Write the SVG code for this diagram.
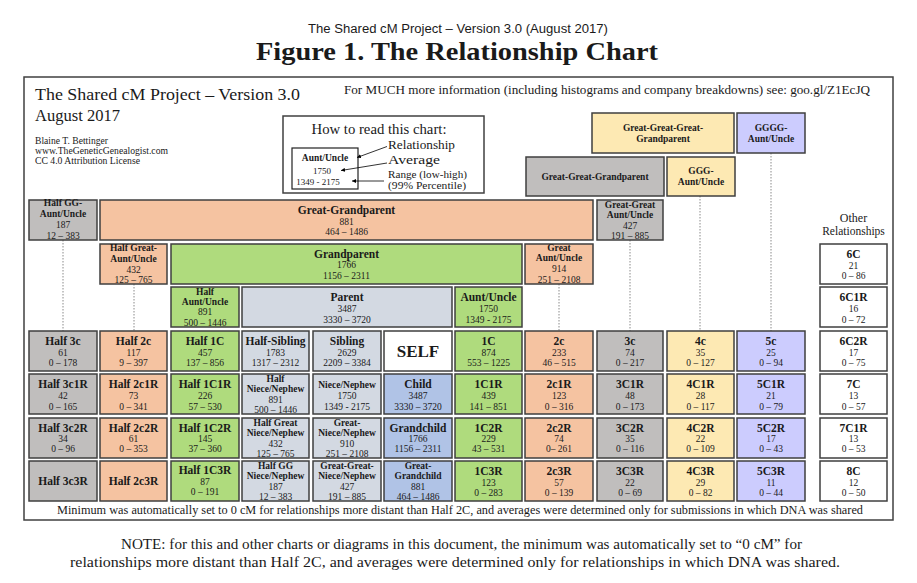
<svg xmlns="http://www.w3.org/2000/svg" width="917" height="583" viewBox="0 0 917 583">
<defs>
<style>
text{font-family:"Liberation Serif","DejaVu Serif",serif;fill:#1a1a1a}
.bx{stroke:#3f3f3f;stroke-width:1.5}
.g{fill:#c0bebd}.s{fill:#f5c3a1}.gr{fill:#afdb7d}.lb{fill:#d3d9e2}.b{fill:#b0c3e6}.y{fill:#fde9b3}.l{fill:#ccccfe}.w{fill:#fff}
.n{font-weight:bold;font-size:11.5px;text-anchor:middle}
.ns{font-weight:bold;font-size:9.5px;text-anchor:middle}
.v{font-size:9.5px;text-anchor:middle}
.lg{font-size:13px}
.c line{stroke:#8a8a8a;stroke-width:1;stroke-dasharray:1.5 1.5}
.ar line{stroke:#000;stroke-width:0.8}
</style>
<marker id="ah" viewBox="0 0 6 6" refX="6" refY="3" markerWidth="5" markerHeight="5" orient="auto"><path d="M0,0L6,3L0,6z" fill="#000"/></marker>
</defs>
<rect width="917" height="583" fill="#fff"/>

<text x="458" y="33" text-anchor="middle" style="font-family:'Liberation Sans',Arial,sans-serif;font-size:12.5px" textLength="300" lengthAdjust="spacingAndGlyphs">The Shared cM Project – Version 3.0 (August 2017)</text>
<text x="256" y="60" style="font-weight:bold;font-size:26px" textLength="402" lengthAdjust="spacingAndGlyphs">Figure 1. The Relationship Chart</text>

<rect x="24" y="77" width="869" height="443" fill="none" stroke="#404040" stroke-width="1.5"/>

<g id="header">
<text x="35" y="100" style="font-size:17px" textLength="265" lengthAdjust="spacingAndGlyphs">The Shared cM Project – Version 3.0</text>
<text x="35" y="121" style="font-size:17px" textLength="85" lengthAdjust="spacingAndGlyphs">August 2017</text>
<text x="35" y="144" style="font-size:9.5px" textLength="73" lengthAdjust="spacingAndGlyphs">Blaine T. Bettinger</text>
<text x="35" y="154" style="font-size:9.5px" textLength="133" lengthAdjust="spacingAndGlyphs">www.TheGeneticGenealogist.com</text>
<text x="35" y="164" style="font-size:9.5px" textLength="105" lengthAdjust="spacingAndGlyphs">CC 4.0 Attribution License</text>
<text x="344" y="94" style="font-size:12px" textLength="526" lengthAdjust="spacingAndGlyphs">For MUCH more information (including histograms and company breakdowns) see: goo.gl/Z1EcJQ</text>
</g>

<g id="legend">
<rect x="283" y="116" width="201" height="77" fill="#fff" stroke="#404040" stroke-width="1.5"/>
<text x="379" y="134" text-anchor="middle" style="font-size:15px" textLength="135" lengthAdjust="spacingAndGlyphs">How to read this chart:</text>
<rect x="292" y="148" width="66" height="41" fill="#fff" stroke="#222" stroke-width="1.2"/>
<text x="325" y="161" class="ns">Aunt/Uncle</text>
<text x="322" y="174" style="font-size:9px" text-anchor="middle">1750</text>
<text x="318" y="184.5" style="font-size:9px" text-anchor="middle">1349 - 2175</text>
<text x="388" y="148.5" class="lg" textLength="67" lengthAdjust="spacingAndGlyphs">Relationship</text>
<text x="388" y="164" class="lg" textLength="52" lengthAdjust="spacingAndGlyphs">Average</text>
<text x="388" y="177.5" style="font-size:11px" textLength="79" lengthAdjust="spacingAndGlyphs">Range (low-high)</text>
<text x="388" y="189" style="font-size:11px" textLength="78" lengthAdjust="spacingAndGlyphs">(99% Percentile)</text>
<g class="ar">
<line x1="387" y1="146.5" x2="357" y2="157.5" marker-end="url(#ah)"/>
<line x1="387" y1="163" x2="341" y2="170.5" marker-end="url(#ah)"/>
<line x1="384" y1="181" x2="352" y2="181" marker-end="url(#ah)"/>
</g>
</g>

<g id="connectors" class="c">
<line x1="63" y1="240" x2="63" y2="331"/>
<line x1="134" y1="284" x2="134" y2="331"/>
<line x1="559" y1="284" x2="559" y2="331"/>
<line x1="630" y1="240" x2="630" y2="331"/>
<line x1="700" y1="196" x2="700" y2="331"/>
<line x1="771" y1="153" x2="771" y2="331"/>
</g>

<text x="853.5" y="222" text-anchor="middle" style="font-size:12px">Other</text>
<text x="853.5" y="235" text-anchor="middle" style="font-size:11.5px">Relationships</text>

<!-- top rows -->
<g id="ggg-grandparent"><rect class="bx y" x="592" y="113" width="142" height="40"/>
<text class="ns" x="663" y="131">Great-Great-Great-</text><text class="ns" x="663" y="142">Grandparent</text></g>
<g id="gggg-aunt"><rect class="bx l" x="737" y="113" width="68" height="40"/>
<text class="ns" x="771" y="131">GGGG-</text><text class="ns" x="771" y="142">Aunt/Uncle</text></g>
<g id="gg-grandparent"><rect class="bx g" x="526" y="157" width="138" height="39"/>
<text class="ns" x="595" y="180">Great-Great-Grandparent</text></g>
<g id="ggg-aunt"><rect class="bx y" x="667" y="157" width="68" height="39"/>
<text class="ns" x="701" y="174">GGG-</text><text class="ns" x="701" y="185">Aunt/Uncle</text></g>

<g id="half-gg-aunt"><rect class="bx g" x="29" y="200" width="68" height="40"/>
<text class="ns" x="63" y="205.5">Half GG-</text><text class="ns" x="63" y="217">Aunt/Uncle</text><text class="v" x="63" y="228">187</text><text class="v" x="63" y="238.5">12 – 383</text></g>
<g id="great-grandparent"><rect class="bx s" x="100" y="200" width="493" height="40"/>
<text class="n" x="346.5" y="214">Great-Grandparent</text><text class="v" x="346.5" y="225">881</text><text class="v" x="346.5" y="235">464 – 1486</text></g>
<g id="gg-aunt"><rect class="bx g" x="597" y="200" width="66" height="40"/>
<text class="ns" x="630" y="208">Great-Great</text><text class="ns" x="630" y="218">Aunt/Uncle</text><text class="v" x="630" y="228.5">427</text><text class="v" x="630" y="238.5">191 – 885</text></g>

<g id="half-great-aunt"><rect class="bx s" x="100" y="244" width="67" height="40"/>
<text class="ns" x="133.5" y="251">Half Great-</text><text class="ns" x="133.5" y="261.5">Aunt/Uncle</text><text class="v" x="133.5" y="272.5">432</text><text class="v" x="133.5" y="283">125 – 765</text></g>
<g id="grandparent"><rect class="bx gr" x="171" y="244" width="351" height="40"/>
<text class="n" x="346.5" y="257.5">Grandparent</text><text class="v" x="346.5" y="268">1766</text><text class="v" x="346.5" y="278.5">1156 – 2311</text></g>
<g id="great-aunt"><rect class="bx s" x="525" y="244" width="68" height="40"/>
<text class="ns" x="559" y="250.5">Great</text><text class="ns" x="559" y="261">Aunt/Uncle</text><text class="v" x="559" y="272">914</text><text class="v" x="559" y="282.5">251 – 2108</text></g>
<g id="c6"><rect class="bx w" x="820" y="244" width="67" height="40"/>
<text class="n" x="853.5" y="257.5">6C</text><text class="v" x="853.5" y="268.5">21</text><text class="v" x="853.5" y="279">0 – 86</text></g>

<g id="half-aunt"><rect class="bx gr" x="171" y="287" width="68" height="40"/>
<text class="ns" x="205" y="294.5">Half</text><text class="ns" x="205" y="304.5">Aunt/Uncle</text><text class="v" x="205" y="315">891</text><text class="v" x="205" y="326">500 – 1446</text></g>
<g id="parent"><rect class="bx lb" x="242" y="287" width="210" height="40"/>
<text class="n" x="347" y="300.5">Parent</text><text class="v" x="347" y="312">3487</text><text class="v" x="347" y="322.5">3330 – 3720</text></g>
<g id="aunt"><rect class="bx gr" x="455" y="287" width="67" height="40"/>
<text class="n" x="488.5" y="300.5">Aunt/Uncle</text><text class="v" x="488.5" y="312">1750</text><text class="v" x="488.5" y="323">1349 - 2175</text></g>
<g id="c6c1r"><rect class="bx w" x="820" y="287" width="67" height="40"/>
<text class="n" x="853.5" y="300.5">6C1R</text><text class="v" x="853.5" y="311.5">16</text><text class="v" x="853.5" y="322.5">0 – 72</text></g>

<!-- row 1 -->
<g id="half-3c"><rect class="bx g" x="29" y="331" width="68" height="40"/><text class="n" x="63" y="344.5">Half 3c</text><text class="v" x="63" y="355.5">61</text><text class="v" x="63" y="366">0 – 178</text></g>
<g id="half-2c"><rect class="bx s" x="100" y="331" width="67" height="40"/><text class="n" x="133.5" y="344.5">Half 2c</text><text class="v" x="133.5" y="355.5">117</text><text class="v" x="133.5" y="366">9 – 397</text></g>
<g id="half-1c"><rect class="bx gr" x="171" y="331" width="68" height="40"/><text class="n" x="205" y="344.5">Half 1C</text><text class="v" x="205" y="355.5">457</text><text class="v" x="205" y="366">137 – 856</text></g>
<g id="half-sibling"><rect class="bx lb" x="242" y="331" width="67" height="40"/><text class="n" x="275.5" y="344.5">Half-Sibling</text><text class="v" x="275.5" y="355.5">1783</text><text class="v" x="275.5" y="366">1317 – 2312</text></g>
<g id="sibling"><rect class="bx lb" x="313" y="331" width="68" height="40"/><text class="n" x="347" y="344.5">Sibling</text><text class="v" x="347" y="355.5">2629</text><text class="v" x="347" y="366">2209 – 3384</text></g>
<g id="self"><rect class="bx w" x="384" y="331" width="68" height="40"/><text x="418" y="357" text-anchor="middle" style="font-weight:bold;font-size:17px">SELF</text></g>
<g id="c1"><rect class="bx gr" x="455" y="331" width="67" height="40"/><text class="n" x="488.5" y="344.5">1C</text><text class="v" x="488.5" y="355.5">874</text><text class="v" x="488.5" y="366">553 – 1225</text></g>
<g id="c2"><rect class="bx s" x="525" y="331" width="68" height="40"/><text class="n" x="559" y="344.5">2c</text><text class="v" x="559" y="355.5">233</text><text class="v" x="559" y="366">46 – 515</text></g>
<g id="c3"><rect class="bx g" x="597" y="331" width="66" height="40"/><text class="n" x="630" y="344.5">3c</text><text class="v" x="630" y="355.5">74</text><text class="v" x="630" y="366">0 – 217</text></g>
<g id="c4"><rect class="bx y" x="667" y="331" width="67" height="40"/><text class="n" x="700.5" y="344.5">4c</text><text class="v" x="700.5" y="355.5">35</text><text class="v" x="700.5" y="366">0 – 127</text></g>
<g id="c5"><rect class="bx l" x="737" y="331" width="68" height="40"/><text class="n" x="771" y="344.5">5c</text><text class="v" x="771" y="355.5">25</text><text class="v" x="771" y="366">0 – 94</text></g>
<g id="c6c2r"><rect class="bx w" x="820" y="331" width="67" height="40"/><text class="n" x="853.5" y="344.5">6C2R</text><text class="v" x="853.5" y="355.5">17</text><text class="v" x="853.5" y="366">0 – 75</text></g>

<!-- row 2 -->
<g id="half-3c1r"><rect class="bx g" x="29" y="374" width="68" height="40"/><text class="n" x="63" y="388">Half 3c1R</text><text class="v" x="63" y="399">42</text><text class="v" x="63" y="409.5">0 – 165</text></g>
<g id="half-2c1r"><rect class="bx s" x="100" y="374" width="67" height="40"/><text class="n" x="133.5" y="388">Half 2c1R</text><text class="v" x="133.5" y="399">73</text><text class="v" x="133.5" y="409.5">0 – 341</text></g>
<g id="half-1c1r"><rect class="bx gr" x="171" y="374" width="68" height="40"/><text class="n" x="205" y="388">Half 1C1R</text><text class="v" x="205" y="399">226</text><text class="v" x="205" y="409.5">57 – 530</text></g>
<g id="half-niece"><rect class="bx lb" x="242" y="374" width="67" height="40"/><text class="ns" x="275.5" y="381.5">Half</text><text class="ns" x="275.5" y="391.5">Niece/Nephew</text><text class="v" x="275.5" y="402.5">891</text><text class="v" x="275.5" y="413">500 – 1446</text></g>
<g id="niece"><rect class="bx lb" x="313" y="374" width="68" height="40"/><text class="ns" x="347" y="388">Niece/Nephew</text><text class="v" x="347" y="399">1750</text><text class="v" x="347" y="409.5">1349 - 2175</text></g>
<g id="child"><rect class="bx b" x="384" y="374" width="68" height="40"/><text class="n" x="418" y="388">Child</text><text class="v" x="418" y="399">3487</text><text class="v" x="418" y="409.5">3330 – 3720</text></g>
<g id="c1c1r"><rect class="bx gr" x="455" y="374" width="67" height="40"/><text class="n" x="488.5" y="388">1C1R</text><text class="v" x="488.5" y="399">439</text><text class="v" x="488.5" y="409.5">141 – 851</text></g>
<g id="c2c1r"><rect class="bx s" x="525" y="374" width="68" height="40"/><text class="n" x="559" y="388">2c1R</text><text class="v" x="559" y="399">123</text><text class="v" x="559" y="409.5">0 – 316</text></g>
<g id="c3c1r"><rect class="bx g" x="597" y="374" width="66" height="40"/><text class="n" x="630" y="388">3C1R</text><text class="v" x="630" y="399">48</text><text class="v" x="630" y="409.5">0 – 173</text></g>
<g id="c4c1r"><rect class="bx y" x="667" y="374" width="67" height="40"/><text class="n" x="700.5" y="388">4C1R</text><text class="v" x="700.5" y="399">28</text><text class="v" x="700.5" y="409.5">0 – 117</text></g>
<g id="c5c1r"><rect class="bx l" x="737" y="374" width="68" height="40"/><text class="n" x="771" y="388">5C1R</text><text class="v" x="771" y="399">21</text><text class="v" x="771" y="409.5">0 – 79</text></g>
<g id="c7"><rect class="bx w" x="820" y="374" width="67" height="40"/><text class="n" x="853.5" y="388">7C</text><text class="v" x="853.5" y="399">13</text><text class="v" x="853.5" y="409.5">0 – 57</text></g>

<!-- row 3 -->
<g id="half-3c2r"><rect class="bx g" x="29" y="418" width="68" height="40"/><text class="n" x="63" y="431.5">Half 3c2R</text><text class="v" x="63" y="442">34</text><text class="v" x="63" y="452">0 – 96</text></g>
<g id="half-2c2r"><rect class="bx s" x="100" y="418" width="67" height="40"/><text class="n" x="133.5" y="431.5">Half 2c2R</text><text class="v" x="133.5" y="442">61</text><text class="v" x="133.5" y="452">0 – 353</text></g>
<g id="half-1c2r"><rect class="bx gr" x="171" y="418" width="68" height="40"/><text class="n" x="205" y="431.5">Half 1C2R</text><text class="v" x="205" y="442">145</text><text class="v" x="205" y="452">37 – 360</text></g>
<g id="half-great-niece"><rect class="bx lb" x="242" y="418" width="67" height="40"/><text class="ns" x="275.5" y="425.5">Half Great</text><text class="ns" x="275.5" y="435.5">Niece/Nephew</text><text class="v" x="275.5" y="446.5">432</text><text class="v" x="275.5" y="457">125 – 765</text></g>
<g id="great-niece"><rect class="bx lb" x="313" y="418" width="68" height="40"/><text class="ns" x="347" y="425.5">Great-</text><text class="ns" x="347" y="435.5">Niece/Nephew</text><text class="v" x="347" y="446.5">910</text><text class="v" x="347" y="457">251 – 2108</text></g>
<g id="grandchild"><rect class="bx b" x="384" y="418" width="68" height="40"/><text class="n" x="418" y="431.5">Grandchild</text><text class="v" x="418" y="442">1766</text><text class="v" x="418" y="452">1156 – 2311</text></g>
<g id="c1c2r"><rect class="bx gr" x="455" y="418" width="67" height="40"/><text class="n" x="488.5" y="431.5">1C2R</text><text class="v" x="488.5" y="442">229</text><text class="v" x="488.5" y="452">43 – 531</text></g>
<g id="c2c2r"><rect class="bx s" x="525" y="418" width="68" height="40"/><text class="n" x="559" y="431.5">2c2R</text><text class="v" x="559" y="442">74</text><text class="v" x="559" y="452">0– 261</text></g>
<g id="c3c2r"><rect class="bx g" x="597" y="418" width="66" height="40"/><text class="n" x="630" y="431.5">3C2R</text><text class="v" x="630" y="442">35</text><text class="v" x="630" y="452">0 – 116</text></g>
<g id="c4c2r"><rect class="bx y" x="667" y="418" width="67" height="40"/><text class="n" x="700.5" y="431.5">4C2R</text><text class="v" x="700.5" y="442">22</text><text class="v" x="700.5" y="452">0 – 109</text></g>
<g id="c5c2r"><rect class="bx l" x="737" y="418" width="68" height="40"/><text class="n" x="771" y="431.5">5C2R</text><text class="v" x="771" y="442">17</text><text class="v" x="771" y="452">0 – 43</text></g>
<g id="c7c1r"><rect class="bx w" x="820" y="418" width="67" height="40"/><text class="n" x="853.5" y="431.5">7C1R</text><text class="v" x="853.5" y="442">13</text><text class="v" x="853.5" y="452">0 – 53</text></g>

<!-- row 4 -->
<g id="half-3c3r"><rect class="bx g" x="29" y="461" width="68" height="40"/><text class="n" x="63" y="485">Half 3c3R</text></g>
<g id="half-2c3r"><rect class="bx s" x="100" y="461" width="67" height="40"/><text class="n" x="133.5" y="485">Half 2c3R</text></g>
<g id="half-1c3r"><rect class="bx gr" x="171" y="461" width="68" height="40"/><text class="n" x="205" y="474">Half 1C3R</text><text class="v" x="205" y="485">87</text><text class="v" x="205" y="495">0 – 191</text></g>
<g id="half-gg-niece"><rect class="bx lb" x="242" y="461" width="67" height="40"/><text class="ns" x="275.5" y="469">Half GG</text><text class="ns" x="275.5" y="479">Niece/Nephew</text><text class="v" x="275.5" y="489.5">187</text><text class="v" x="275.5" y="500">12 – 383</text></g>
<g id="gg-niece"><rect class="bx lb" x="313" y="461" width="68" height="40"/><text class="ns" x="347" y="469">Great-Great-</text><text class="ns" x="347" y="479">Niece/Nephew</text><text class="v" x="347" y="489.5">427</text><text class="v" x="347" y="500">191 – 885</text></g>
<g id="great-grandchild"><rect class="bx b" x="384" y="461" width="68" height="40"/><text class="ns" x="418" y="469">Great-</text><text class="ns" x="418" y="479">Grandchild</text><text class="v" x="418" y="489.5">881</text><text class="v" x="418" y="500">464 – 1486</text></g>
<g id="c1c3r"><rect class="bx gr" x="455" y="461" width="67" height="40"/><text class="n" x="488.5" y="475">1C3R</text><text class="v" x="488.5" y="485.5">123</text><text class="v" x="488.5" y="495.5">0 – 283</text></g>
<g id="c2c3r"><rect class="bx s" x="525" y="461" width="68" height="40"/><text class="n" x="559" y="475">2c3R</text><text class="v" x="559" y="485.5">57</text><text class="v" x="559" y="495.5">0 – 139</text></g>
<g id="c3c3r"><rect class="bx g" x="597" y="461" width="66" height="40"/><text class="n" x="630" y="475">3C3R</text><text class="v" x="630" y="485.5">22</text><text class="v" x="630" y="495.5">0 – 69</text></g>
<g id="c4c3r"><rect class="bx y" x="667" y="461" width="67" height="40"/><text class="n" x="700.5" y="475">4C3R</text><text class="v" x="700.5" y="485.5">29</text><text class="v" x="700.5" y="495.5">0 – 82</text></g>
<g id="c5c3r"><rect class="bx l" x="737" y="461" width="68" height="40"/><text class="n" x="771" y="475">5C3R</text><text class="v" x="771" y="485.5">11</text><text class="v" x="771" y="495.5">0 – 44</text></g>
<g id="c8"><rect class="bx w" x="820" y="461" width="67" height="40"/><text class="n" x="853.5" y="475">8C</text><text class="v" x="853.5" y="485.5">12</text><text class="v" x="853.5" y="495.5">0 – 50</text></g>

<text x="57" y="513.5" style="font-size:12px" textLength="806" lengthAdjust="spacingAndGlyphs">Minimum was automatically set to 0 cM for relationships more distant than Half 2C, and averages were determined only for submissions in which DNA was shared</text>

<text x="121" y="549" style="font-size:15px" textLength="681" lengthAdjust="spacingAndGlyphs">NOTE: for this and other charts or diagrams in this document, the minimum was automatically set to “0 cM” for</text>
<text x="70" y="567" style="font-size:15px" textLength="770" lengthAdjust="spacingAndGlyphs">relationships more distant than Half 2C, and averages were determined only for relationships in which DNA was shared.</text>
</svg>
